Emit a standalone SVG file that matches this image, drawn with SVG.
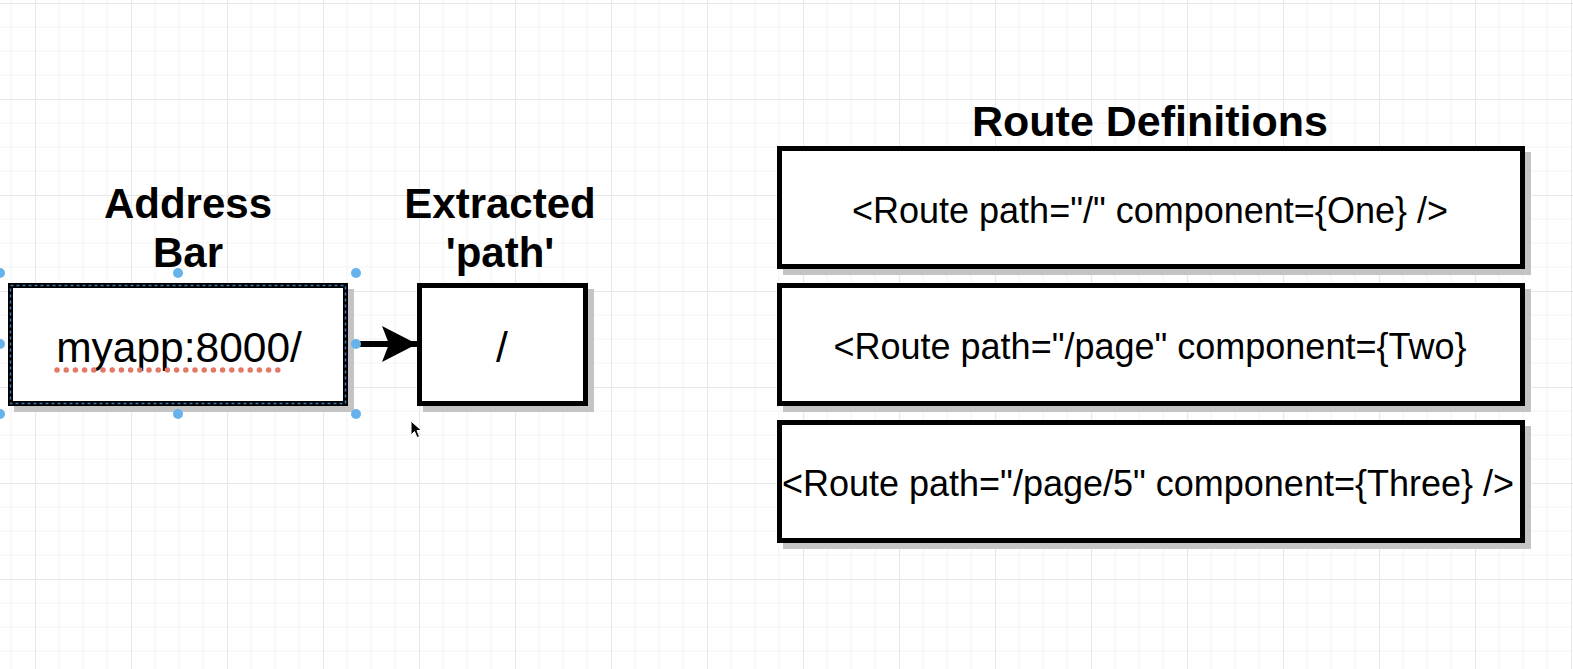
<svg xmlns="http://www.w3.org/2000/svg" width="1573" height="669" viewBox="0 0 1573 669">
  <style>
    .box { fill: #ffffff; stroke: #000000; stroke-width: 5; }
    .shadow { fill: #c4c4c4; }
    .head { font-family: "Liberation Sans", Arial, sans-serif; font-weight: bold; font-size: 42px; fill: #000; text-anchor: middle; }
    .label { font-family: "Liberation Sans", Arial, sans-serif; font-size: 42.5px; fill: #000; text-anchor: middle; }
    .route { font-family: "Liberation Sans", Arial, sans-serif; font-size: 36px; fill: #000; text-anchor: middle; }
    .handle { fill: #66b2ea; }
    .sel { fill: none; stroke: #3d78b5; stroke-width: 1.5; stroke-dasharray: 3 3; }
  </style>
  <defs>
    <pattern id="grid" x="35" y="3" width="96" height="96" patternUnits="userSpaceOnUse">
      <path d="M24 0V96M48 0V96M72 0V96M0 24H96M0 48H96M0 72H96" stroke="#f3f3f3" stroke-width="1" fill="none"/>
      <path d="M0.5 0V96M0 0.5H96" stroke="#e8e8e8" stroke-width="1.2" fill="none"/>
    </pattern>
    <marker id="arrowhead" markerUnits="userSpaceOnUse" markerWidth="40" markerHeight="40" refX="35" refY="18" orient="auto">
      <path d="M0 0 L35 18 L0 36 L7 18 Z" fill="#000"/>
    </marker>
  </defs>

  <rect x="0" y="0" width="1573" height="669" fill="#ffffff"/>
  <rect x="0" y="0" width="1573" height="669" fill="url(#grid)"/>

  <g id="address-bar">
    <text class="head" x="188" y="218">Address</text>
    <text class="head" x="188" y="267">Bar</text>
    <rect class="shadow" x="14" y="289" width="340" height="123"/>
    <rect class="box" x="10.5" y="285.5" width="335" height="118"/>
    <rect class="sel" x="10.5" y="285.5" width="335" height="118"/>
    <text class="label" x="179" y="362">myapp:8000/</text>
    <line x1="57" y1="370" x2="279" y2="370" stroke="#e47866" stroke-width="5.5" stroke-linecap="round" stroke-dasharray="0 9.2"/>
    <circle class="handle" cx="0" cy="273" r="5"/>
    <circle class="handle" cx="178" cy="273" r="5"/>
    <circle class="handle" cx="356" cy="273" r="5"/>
    <circle class="handle" cx="0" cy="344" r="5"/>
    <circle class="handle" cx="0" cy="414" r="5"/>
    <circle class="handle" cx="178" cy="414" r="5"/>
    <circle class="handle" cx="356" cy="414" r="5"/>
  </g>

  <g id="connectors">
    <line x1="360" y1="344" x2="417" y2="344" stroke="#000" stroke-width="6" marker-end="url(#arrowhead)"/>
    <circle class="handle" cx="356" cy="344" r="5"/>
  </g>

  <g id="extracted-path">
    <text class="head" x="500" y="218">Extracted</text>
    <text class="head" x="500" y="267">'path'</text>
    <rect class="shadow" x="423" y="289" width="171" height="123"/>
    <rect class="box" x="419.5" y="285.5" width="166" height="118"/>
    <text class="label" x="502" y="362">/</text>
  </g>

  <g id="route-definitions">
    <text class="head" x="1150" y="136" style="font-size:43px">Route Definitions</text>
  </g>

  <g id="route-1">
    <rect class="shadow" x="783" y="152" width="748" height="123"/>
    <rect class="box" x="779.5" y="148.5" width="743" height="118"/>
    <text class="route" x="1150" y="223">&lt;Route path="/" component={One} /&gt;</text>
  </g>

  <g id="route-2">
    <rect class="shadow" x="783" y="289" width="748" height="123"/>
    <rect class="box" x="779.5" y="285.5" width="743" height="118"/>
    <text class="route" x="1150" y="359">&lt;Route path="/page" component={Two}</text>
  </g>

  <g id="route-3">
    <rect class="shadow" x="783" y="426" width="748" height="123"/>
    <rect class="box" x="779.5" y="422.5" width="743" height="118"/>
    <text class="route" x="1148" y="496">&lt;Route path="/page/5" component={Three} /&gt;</text>
  </g>

  <g id="cursor">
    <path d="M411 421 L411 435 L414.5 431.5 L417 437.5 L419.5 436.5 L417 430.5 L421.5 430.5 Z" fill="#000" stroke="#fff" stroke-width="1"/>
  </g>
</svg>
